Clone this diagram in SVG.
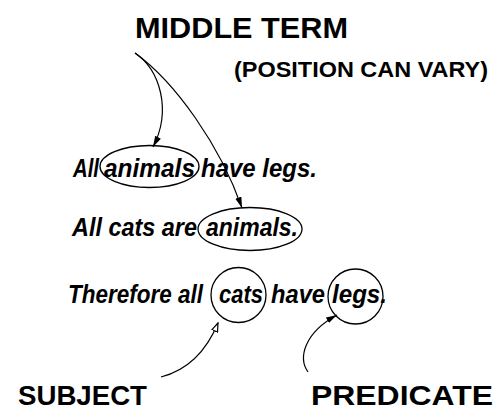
<svg xmlns="http://www.w3.org/2000/svg" width="497" height="411" viewBox="0 0 497 411">
<style>
.h{font-family:"Liberation Sans",Arial,sans-serif;font-weight:bold;fill:#000}
.s{font-family:"Liberation Sans",Arial,sans-serif;font-weight:bold;font-style:italic;font-size:26px;fill:#000}
.ring{fill:none;stroke:#000;stroke-width:1.3}
.line{fill:none;stroke:#000;stroke-width:1.2}
</style>
<defs>
<marker id="ah" markerUnits="userSpaceOnUse" markerWidth="12" markerHeight="8" refX="11" refY="4" orient="auto">
<path d="M0,0.8 L11,4 L0,7.2 z" fill="#000"/>
</marker>
<marker id="ahOpen" markerUnits="userSpaceOnUse" markerWidth="10" markerHeight="8" refX="9" refY="4" orient="auto">
<path d="M0.5,1 L9,4 L0.5,7 z" fill="#fff" stroke="#000" stroke-width="1.2"/>
</marker>
</defs>
<rect width="497" height="411" fill="#fff"/>
<g id="middle-term">
<text class="h" x="135" y="38" font-size="29" textLength="213" lengthAdjust="spacingAndGlyphs">MIDDLE TERM</text>
<text class="h" x="234" y="77" font-size="22" textLength="254" lengthAdjust="spacingAndGlyphs">(POSITION CAN VARY)</text>
</g>
<g id="premise1">
<text class="s" x="73" y="177" textLength="26" lengthAdjust="spacingAndGlyphs">All</text>
<ellipse class="ring" cx="149.5" cy="166.5" rx="49.5" ry="21"/>
<text class="s" x="104" y="177" textLength="91" lengthAdjust="spacingAndGlyphs">animals</text>
<text class="s" x="201" y="177" textLength="116" lengthAdjust="spacingAndGlyphs">have legs.</text>
</g>
<g id="premise2">
<text class="s" x="72" y="236" textLength="125" lengthAdjust="spacingAndGlyphs">All cats are</text>
<ellipse class="ring" cx="250" cy="229" rx="52" ry="21.5"/>
<text class="s" x="206" y="236" textLength="92" lengthAdjust="spacingAndGlyphs">animals.</text>
</g>
<g id="conclusion">
<text class="s" x="68" y="303" textLength="135" lengthAdjust="spacingAndGlyphs">Therefore all</text>
<circle class="ring" cx="238.5" cy="295" r="27.5"/>
<text class="s" x="219" y="303" textLength="44" lengthAdjust="spacingAndGlyphs">cats</text>
<text class="s" x="271" y="303" textLength="54" lengthAdjust="spacingAndGlyphs">have</text>
<circle class="ring" cx="355.5" cy="296.5" r="27.5"/>
<text class="s" x="332" y="303" textLength="55" lengthAdjust="spacingAndGlyphs">legs.</text>
</g>
<g id="subject">
<text class="h" x="18" y="405" font-size="28" textLength="129" lengthAdjust="spacingAndGlyphs">SUBJECT</text>
</g>
<g id="predicate">
<text class="h" x="311" y="405" font-size="28" textLength="182" lengthAdjust="spacingAndGlyphs">PREDICATE</text>
</g>
<g id="connectors">
<path class="line" d="M135,53 C160,70 172,110 153,147" marker-end="url(#ah)"/>
<path class="line" d="M135,53 C175,82 220,145 242,208" marker-end="url(#ah)"/>
<path class="line" d="M161,377 C188,370 206,352 218,323" marker-end="url(#ahOpen)"/>
<path class="line" d="M308,372 C298,358 304,333 337,315" marker-end="url(#ah)"/>
</g>
</svg>
